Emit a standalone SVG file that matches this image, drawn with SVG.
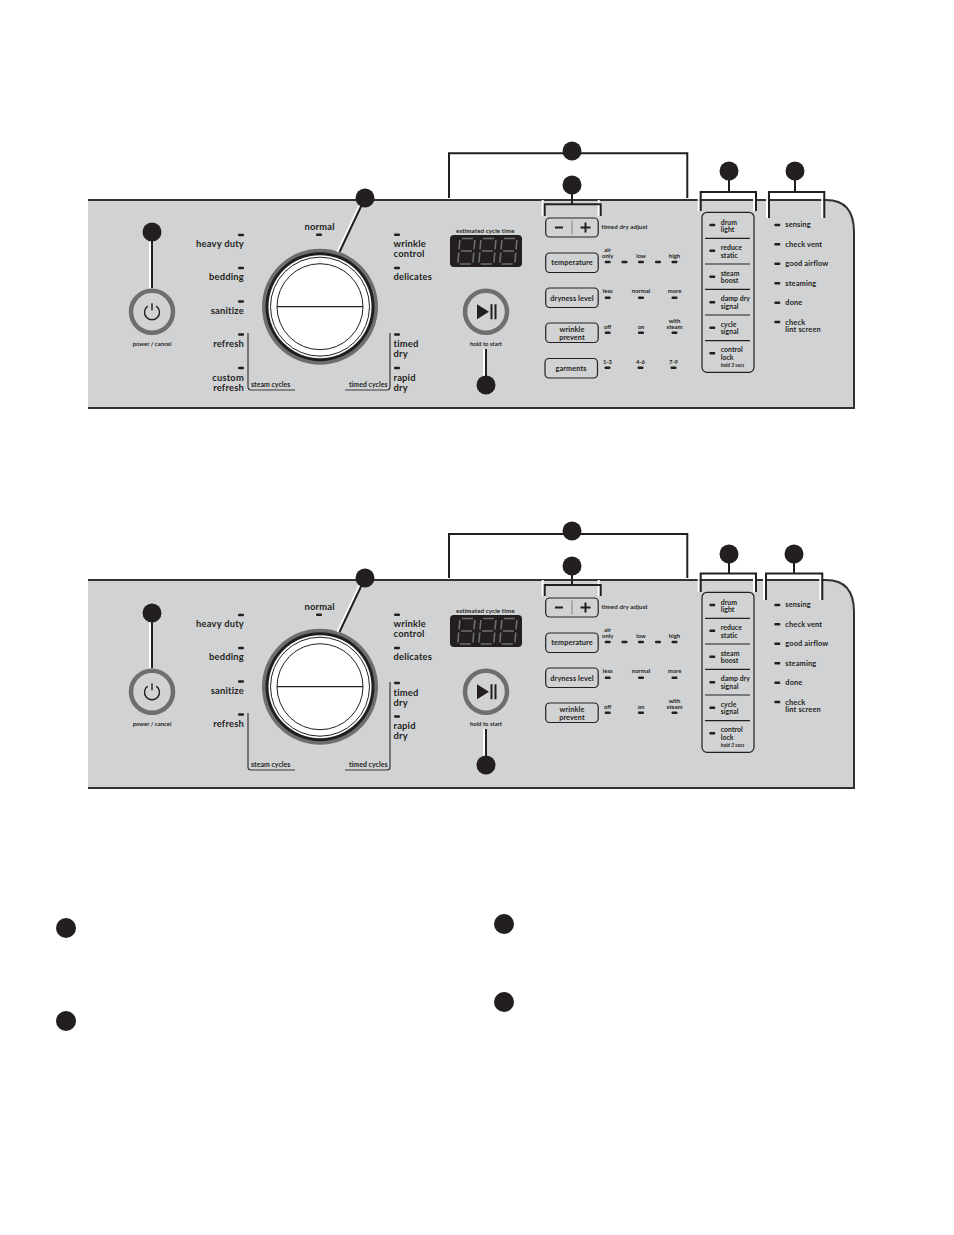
<svg xmlns="http://www.w3.org/2000/svg" width="954" height="1235" viewBox="0 0 954 1235">
<style>
text{font-family:Lato,"Open Sans",sans-serif;fill:#231f20;font-weight:700}
.m{font-size:9.400px;letter-spacing:.2px}
.r{text-anchor:end}
.s{font-size:7.400px;letter-spacing:.15px}
.o{font-size:6.900px;letter-spacing:.05px}
.t{font-size:6.200px;letter-spacing:.1px}
.xs{font-size:5.900px;text-anchor:middle}
.b{font-size:7.300px;text-anchor:middle;letter-spacing:.1px}
.panel{fill:#d1d2d4;stroke:none}
.edge{fill:none;stroke:#333132;stroke-width:2}
.dot{fill:#231f20}
.halo{fill:none;stroke:#fff;stroke-width:2}
.ln{fill:none;stroke:#231f20;stroke-width:2}
.thin{fill:none;stroke:#3a3839;stroke-width:1.200}
.btn{fill:none;stroke:#231f20;stroke-width:1.200}
.ring{fill:none;stroke:#6d6e70;stroke-width:4.500}
.seg{stroke:#6d6e70;stroke-width:1.600;fill:none}
</style>
<defs>
<rect id="led" x="-3" y="-1.200" width="6" height="2.400" rx="1" fill="#231f20"/>
<g id="dial">
<circle r="58" fill="#6d6e70"/><circle r="54.500" fill="#231f20"/><circle r="51.500" fill="#fff"/>
<circle r="49.500" fill="none" stroke="#231f20" stroke-width="1"/>
<circle r="43" fill="#fff" stroke="#231f20" stroke-width="1"/>
<path d="M-43 0H43" stroke="#231f20" stroke-width="1.200"/>
</g>
<g id="power">
<circle r="21" class="ring"/>
<path d="M-4.200-5.600A7.500 7.500 0 1 0 4.200-5.600M0-8.500V-1.500" fill="none" stroke="#231f20" stroke-width="1.400"/>
</g>
<g id="play">
<circle r="21" class="ring"/>
<path d="M-9-7.500L3 0L-9 7.500Z" fill="#231f20"/><path d="M5.500-7.500V7.500M9.500-7.500V7.500" stroke="#231f20" stroke-width="2"/>
</g>
<g id="digit">
<path class="seg" transform="skewX(-5)" d="M2 0H13M0 1.500V11M15 1.500V11M2 12.500H13M0 14V24M15 14V24M2 25.500H13"/>
</g>
<g id="display">
<rect width="72" height="32" rx="4" fill="#231f20"/>
<use href="#digit" x="10" y="3.500"/><use href="#digit" x="31" y="3.500"/><use href="#digit" x="52" y="3.500"/>
</g>
<path id="minus" d="M-4 0H4" stroke="#231f20" stroke-width="2"/>
<path id="plus" d="M-5 0H5M0-5V5" stroke="#231f20" stroke-width="2"/>
</defs>
<rect width="954" height="1235" fill="#fff"/>

<g id="panel-a">
<path class="panel" d="M88 200H826Q854 200 854 232V408H88Z"/>
<path class="edge" d="M88 200H826Q854 200 854 232V408H88"/>
</g>
<g id="dial-a"><use href="#dial" x="320" y="306.700"/></g>
<g id="power-a"><use href="#power" x="152" y="311.700"/><text class="xs" x="152" y="345.500">power / cancel</text></g>
<g id="cycles-a">
<use href="#led" x="241" y="235"/><use href="#led" x="241" y="268"/><use href="#led" x="241" y="301.500"/><use href="#led" x="241" y="334.500"/><use href="#led" x="241" y="368"/>
<use href="#led" x="319" y="234.700"/><use href="#led" x="397" y="234.700"/><use href="#led" x="397" y="268"/><use href="#led" x="397" y="334.500"/><use href="#led" x="397" y="368"/>
<text class="m r" x="244" y="247">heavy duty</text><text class="m r" x="244" y="280">bedding</text><text class="m r" x="244" y="313.500">sanitize</text><text class="m r" x="244" y="347">refresh</text><text class="m r" y="380.500"><tspan x="244">custom</tspan><tspan x="244" dy="10">refresh</tspan></text>
<text class="m" x="304.500" y="229.500">normal</text>
<text class="m" y="247"><tspan x="393.500">wrinkle</tspan><tspan x="393.500" dy="10">control</tspan></text><text class="m" x="393.500" y="280">delicates</text><text class="m" y="347"><tspan x="393.500">timed</tspan><tspan x="393.500" dy="10">dry</tspan></text><text class="m" y="380.500"><tspan x="393.500">rapid</tspan><tspan x="393.500" dy="10">dry</tspan></text>
<path class="thin" d="M248 333V387Q248 390 251 390H295"/><path class="thin" d="M345 390H387Q390 390 390 387V333"/>
<text class="o" x="251" y="387">steam cycles</text><text class="o r" x="387.500" y="387">timed cycles</text>
</g>
<g id="display-a"><text class="t" x="456" y="232.500">estimated cycle time</text><use href="#display" x="450" y="235"/></g>
<g id="start-a"><use href="#play" x="486" y="311.700"/><text class="xs" x="486" y="345.500">hold to start</text></g>
<g id="settings-a">
<rect class="btn" x="545.700" y="218" width="52.500" height="19" rx="4"/><use href="#minus" x="559" y="227.500"/><path d="M572 220.500V234.500" stroke="#808285" stroke-width="1"/><use href="#plus" x="585.500" y="227.500"/><text class="t" x="601.500" y="229">timed dry adjust</text>
<rect class="btn" x="545.700" y="253" width="52.500" height="19.500" rx="4"/><text class="b" x="572" y="265.300">temperature</text>
<rect class="btn" x="545.700" y="288" width="52.500" height="19.500" rx="4"/><text class="b" x="572" y="300.500">dryness level</text>
<rect class="btn" x="545.700" y="323" width="52.500" height="19.500" rx="4"/><text class="b" y="331.500"><tspan x="572">wrinkle</tspan><tspan x="572" dy="8">prevent</tspan></text>
<rect class="btn" x="545" y="358.500" width="52.500" height="19.500" rx="4"/><text class="b" x="571" y="370.500">garments</text>
<use href="#led" x="607.700" y="262"/><use href="#led" x="624.500" y="262"/><use href="#led" x="641" y="262"/><use href="#led" x="658" y="262"/><use href="#led" x="674.500" y="262"/>
<use href="#led" x="607.700" y="297.700"/><use href="#led" x="641" y="297.700"/><use href="#led" x="674.500" y="297.700"/>
<use href="#led" x="607.700" y="332.700"/><use href="#led" x="641" y="332.700"/><use href="#led" x="674.500" y="332.700"/>
<use href="#led" x="607.500" y="367.700"/><use href="#led" x="640.500" y="367.700"/><use href="#led" x="673.500" y="367.700"/>
<text class="xs" y="251.500"><tspan x="607.700">air</tspan><tspan x="607.700" dy="6.500">only</tspan></text><text class="xs" x="641" y="258">low</text><text class="xs" x="674.500" y="258">high</text>
<text class="xs" x="607.700" y="293">less</text><text class="xs" x="641" y="293">normal</text><text class="xs" x="674.500" y="293">more</text>
<text class="xs" x="607.700" y="329">off</text><text class="xs" x="641" y="329">on</text><text class="xs" y="322.500"><tspan x="674.500">with</tspan><tspan x="674.500" dy="6.500">steam</tspan></text>
<text class="xs" x="607.500" y="364">1-3</text><text class="xs" x="640.500" y="364">4-6</text><text class="xs" x="673.500" y="364">7-9</text>
</g>
<g id="options-a">
<rect class="btn" x="702" y="212.300" width="52" height="160" rx="5"/>
<path class="btn" d="M705 238.300H750M705 264H750M705 289.300H750M705 315H750M705 340.700H750"/>
<use href="#led" x="712.300" y="225"/><use href="#led" x="712.300" y="250.700"/><use href="#led" x="712.300" y="276.700"/><use href="#led" x="712.300" y="302.300"/><use href="#led" x="712.300" y="327.700"/><use href="#led" x="712.300" y="353.300"/>
<text class="o" y="224.500"><tspan x="720.700">drum</tspan><tspan x="720.700" dy="7.500">light</tspan></text>
<text class="o" y="250"><tspan x="720.700">reduce</tspan><tspan x="720.700" dy="7.500">static</tspan></text>
<text class="o" y="275.500"><tspan x="720.700">steam</tspan><tspan x="720.700" dy="7.500">boost</tspan></text>
<text class="o" y="301"><tspan x="720.700">damp dry</tspan><tspan x="720.700" dy="7.500">signal</tspan></text>
<text class="o" y="326.700"><tspan x="720.700">cycle</tspan><tspan x="720.700" dy="7.600">signal</tspan></text>
<text class="o" y="352"><tspan x="720.700">control</tspan><tspan x="720.700" dy="7.700">lock</tspan><tspan x="720.700" dy="7.300" style="font-size:5px;font-style:italic">hold 3 secs</tspan></text>
</g>
<g id="status-a">
<use href="#led" x="777.300" y="225"/><use href="#led" x="777.300" y="244.300"/><use href="#led" x="777.300" y="263.700"/><use href="#led" x="777.300" y="283.300"/><use href="#led" x="777.300" y="302.700"/><use href="#led" x="777.300" y="322"/>
<text class="s" x="785.300" y="227.300">sensing</text><text class="s" x="785.300" y="246.700">check vent</text><text class="s" x="785.300" y="266.300">good airflow</text><text class="s" x="785.300" y="285.700">steaming</text><text class="s" x="785.300" y="305">done</text><text class="s" y="324.500"><tspan x="785.300">check</tspan><tspan x="785.300" dy="7.500">lint screen</tspan></text>
</g>

<g id="panel-b">
<path class="panel" d="M88 580H826Q854 580 854 612V788H88Z"/>
<path class="edge" d="M88 580H826Q854 580 854 612V788H88"/>
</g>
<g id="dial-b"><use href="#dial" x="320" y="686.700"/></g>
<g id="power-b"><use href="#power" x="152" y="691.700"/><text class="xs" x="152" y="725.500">power / cancel</text></g>
<g id="cycles-b">
<use href="#led" x="241" y="615"/><use href="#led" x="241" y="648"/><use href="#led" x="241" y="681.500"/><use href="#led" x="241" y="714.500"/>
<use href="#led" x="319" y="614.700"/><use href="#led" x="397" y="614.700"/><use href="#led" x="397" y="648"/><use href="#led" x="397" y="683"/><use href="#led" x="397" y="716.500"/>
<text class="m r" x="244" y="627">heavy duty</text><text class="m r" x="244" y="660">bedding</text><text class="m r" x="244" y="693.500">sanitize</text><text class="m r" x="244" y="727">refresh</text>
<text class="m" x="304.500" y="609.500">normal</text>
<text class="m" y="627"><tspan x="393.500">wrinkle</tspan><tspan x="393.500" dy="10">control</tspan></text><text class="m" x="393.500" y="660">delicates</text><text class="m" y="695.500"><tspan x="393.500">timed</tspan><tspan x="393.500" dy="10">dry</tspan></text><text class="m" y="729"><tspan x="393.500">rapid</tspan><tspan x="393.500" dy="10">dry</tspan></text>
<path class="thin" d="M248 713V767Q248 770 251 770H295"/><path class="thin" d="M345 770H387Q390 770 390 767V682"/>
<text class="o" x="251" y="767">steam cycles</text><text class="o r" x="387.500" y="767">timed cycles</text>
</g>
<g id="display-b"><text class="t" x="456" y="612.500">estimated cycle time</text><use href="#display" x="450" y="615"/></g>
<g id="start-b"><use href="#play" x="486" y="691.700"/><text class="xs" x="486" y="725.500">hold to start</text></g>
<g id="settings-b">
<rect class="btn" x="545.700" y="598" width="52.500" height="19" rx="4"/><use href="#minus" x="559" y="607.500"/><path d="M572 600.500V614.500" stroke="#808285" stroke-width="1"/><use href="#plus" x="585.500" y="607.500"/><text class="t" x="601.500" y="609">timed dry adjust</text>
<rect class="btn" x="545.700" y="633" width="52.500" height="19.500" rx="4"/><text class="b" x="572" y="645.300">temperature</text>
<rect class="btn" x="545.700" y="668" width="52.500" height="19.500" rx="4"/><text class="b" x="572" y="680.500">dryness level</text>
<rect class="btn" x="545.700" y="703" width="52.500" height="19.500" rx="4"/><text class="b" y="711.500"><tspan x="572">wrinkle</tspan><tspan x="572" dy="8">prevent</tspan></text>
<use href="#led" x="607.700" y="642"/><use href="#led" x="624.500" y="642"/><use href="#led" x="641" y="642"/><use href="#led" x="658" y="642"/><use href="#led" x="674.500" y="642"/>
<use href="#led" x="607.700" y="677.700"/><use href="#led" x="641" y="677.700"/><use href="#led" x="674.500" y="677.700"/>
<use href="#led" x="607.700" y="712.700"/><use href="#led" x="641" y="712.700"/><use href="#led" x="674.500" y="712.700"/>
<text class="xs" y="631.500"><tspan x="607.700">air</tspan><tspan x="607.700" dy="6.500">only</tspan></text><text class="xs" x="641" y="638">low</text><text class="xs" x="674.500" y="638">high</text>
<text class="xs" x="607.700" y="673">less</text><text class="xs" x="641" y="673">normal</text><text class="xs" x="674.500" y="673">more</text>
<text class="xs" x="607.700" y="709">off</text><text class="xs" x="641" y="709">on</text><text class="xs" y="702.500"><tspan x="674.500">with</tspan><tspan x="674.500" dy="6.500">steam</tspan></text>
</g>
<g id="options-b">
<rect class="btn" x="702" y="592.300" width="52" height="160" rx="5"/>
<path class="btn" d="M705 618.300H750M705 644H750M705 669.300H750M705 695H750M705 720.700H750"/>
<use href="#led" x="712.300" y="605"/><use href="#led" x="712.300" y="630.700"/><use href="#led" x="712.300" y="656.700"/><use href="#led" x="712.300" y="682.300"/><use href="#led" x="712.300" y="707.700"/><use href="#led" x="712.300" y="733.300"/>
<text class="o" y="604.500"><tspan x="720.700">drum</tspan><tspan x="720.700" dy="7.500">light</tspan></text>
<text class="o" y="630"><tspan x="720.700">reduce</tspan><tspan x="720.700" dy="7.500">static</tspan></text>
<text class="o" y="655.500"><tspan x="720.700">steam</tspan><tspan x="720.700" dy="7.500">boost</tspan></text>
<text class="o" y="681"><tspan x="720.700">damp dry</tspan><tspan x="720.700" dy="7.500">signal</tspan></text>
<text class="o" y="706.700"><tspan x="720.700">cycle</tspan><tspan x="720.700" dy="7.600">signal</tspan></text>
<text class="o" y="732"><tspan x="720.700">control</tspan><tspan x="720.700" dy="7.700">lock</tspan><tspan x="720.700" dy="7.300" style="font-size:5px;font-style:italic">hold 3 secs</tspan></text>
</g>
<g id="status-b">
<use href="#led" x="777.300" y="605"/><use href="#led" x="777.300" y="624.300"/><use href="#led" x="777.300" y="643.700"/><use href="#led" x="777.300" y="663.300"/><use href="#led" x="777.300" y="682.700"/><use href="#led" x="777.300" y="702"/>
<text class="s" x="785.300" y="607.300">sensing</text><text class="s" x="785.300" y="626.700">check vent</text><text class="s" x="785.300" y="646.300">good airflow</text><text class="s" x="785.300" y="665.700">steaming</text><text class="s" x="785.300" y="685">done</text><text class="s" y="704.500"><tspan x="785.300">check</tspan><tspan x="785.300" dy="7.500">lint screen</tspan></text>
</g>

<g id="connectors">
<path class="halo" d="M150 232V288M337.500 252L363 198M484 349V385M542.700 200V216M598.700 200V216M698.700 192V211M754 192V211M767 192V218M822.300 192V218"/>
<path class="ln" d="M152 232V288M339.500 252L365 198M486 349V385"/>
<path class="ln" d="M449 198V153.300H687.300V198M572 185V204.300M544.700 216V204.300H600.700V216M729 171V192M700.700 211V192H756V211M795 171V192M769 218V192H824.300V218"/>
<path class="halo" d="M150 613V668M337.500 632L363 578M484 729V765M542.700 580V596M598.700 580V596M698.700 574V592M754 574V592M764 574V600M820.300 574V600"/>
<path class="ln" d="M152 613V668M339.500 632L365 578M486 729V765"/>
<path class="ln" d="M449 578V534H687.300V578M572 566V585M544.700 596V585H600.700V596M729 554V573.500M700.700 592V573.500H756V592M794 554V573.500M766 600V573.500H822.300V600"/>
</g>
<g id="markers">
<circle class="dot" cx="572" cy="151" r="9.500"/><circle class="dot" cx="572" cy="185" r="9.500"/><circle class="dot" cx="729" cy="171" r="9.500"/><circle class="dot" cx="795" cy="171" r="9.500"/><circle class="dot" cx="365" cy="198" r="9.500"/><circle class="dot" cx="152" cy="232" r="9.500"/><circle class="dot" cx="486" cy="385" r="9.500"/>
<circle class="dot" cx="572" cy="531" r="9.500"/><circle class="dot" cx="572" cy="566" r="9.500"/><circle class="dot" cx="729" cy="554" r="9.500"/><circle class="dot" cx="794" cy="554" r="9.500"/><circle class="dot" cx="365" cy="578" r="9.500"/><circle class="dot" cx="152" cy="613" r="9.500"/><circle class="dot" cx="486" cy="765" r="9.500"/>
<circle class="dot" cx="66" cy="928" r="10"/><circle class="dot" cx="66" cy="1021" r="10"/><circle class="dot" cx="504" cy="924" r="10"/><circle class="dot" cx="504" cy="1002" r="10"/>
</g>
</svg>
